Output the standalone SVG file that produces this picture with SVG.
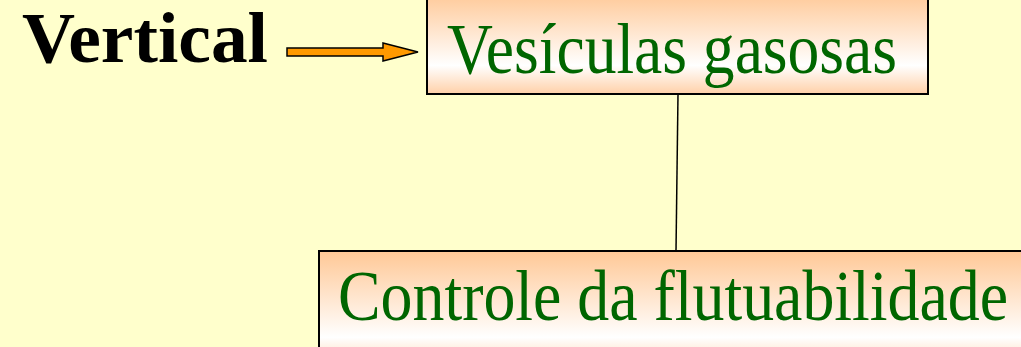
<svg xmlns="http://www.w3.org/2000/svg" width="1021" height="347" viewBox="0 0 1021 347">
<style>
.box{fill:url(#peach);stroke:#000;stroke-width:2}
.lbl{font-family:'Liberation Serif','Times New Roman',serif;font-size:72px;fill:#006600}
.head{font-family:'Liberation Serif','Times New Roman',serif;font-weight:bold;font-size:71px;fill:#000}
.conn{stroke:#000;stroke-width:1.5;fill:none}
</style>
<defs>
<linearGradient id="peach" x1="0" y1="0" x2="0" y2="1">
<stop offset="0" stop-color="#FFC896"/>
<stop offset="0.72" stop-color="#FFFFFF"/>
<stop offset="1" stop-color="#FFD0A8"/>
</linearGradient>
</defs>
<rect width="1021" height="347" fill="#FFFFCC"/>
<text class="head" x="22" y="62" textLength="246" lengthAdjust="spacingAndGlyphs">Vertical</text>
<g id="connectors">
<line class="conn" x1="678" y1="94" x2="676" y2="251"/>
<polygon points="287,48 383,48 383,43 418,52 383,61 383,56 287,56" fill="#FF9900" stroke="#000" stroke-width="1.5"/>
</g>
<g id="node1">
<rect class="box" x="427" y="-8" width="501" height="102"/>
<text class="lbl" x="447" y="73" textLength="450" lengthAdjust="spacingAndGlyphs">Vesículas gasosas</text>
</g>
<g id="node2">
<rect class="box" x="319" y="251" width="720" height="120"/>
<text class="lbl" x="338" y="320" textLength="670" lengthAdjust="spacingAndGlyphs">Controle da flutuabilidade</text>
</g>
</svg>
